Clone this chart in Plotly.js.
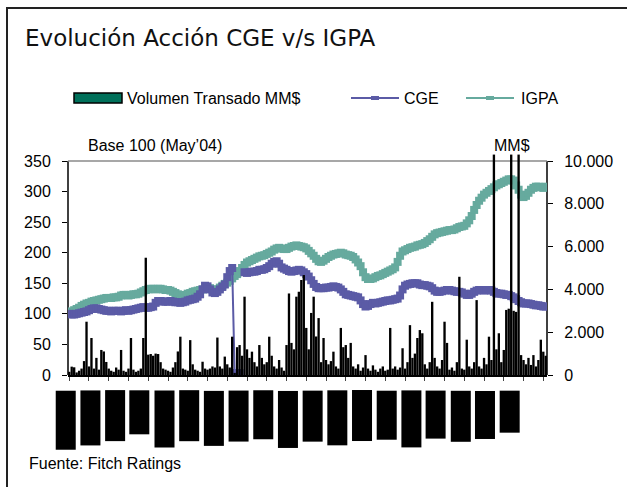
<!DOCTYPE html>
<html>
<head>
<meta charset="utf-8">
<script src="https://cdn.plot.ly/plotly-3.0.1.min.js"></script>
<style>
  html, body { margin: 0; padding: 0; background: #fff; overflow: hidden; }
  #wrap { position: relative; width: 627px; height: 487px; }
  #chart { position: absolute; left: 0; top: 0; width: 627px; height: 487px; }
  #frame { position: absolute; left: 6px; top: 7px; width: 700px; height: 600px;
           border-left: 2px solid #222; border-top: 2px solid #222; pointer-events: none; }
</style>
</head>
<body>
<div id="wrap"><div id="chart"></div><div id="frame"></div></div>
<script>
// ---------------- DATA ----------------
var monthLabels = ["may-04","jun-04","jul-04","ago-04","sep-04","oct-04","nov-04","dic-04","ene-05","feb-05",
                   "mar-05","abr-05","may-05","jun-05","jul-05","ago-05","sep-05","oct-05","nov-05"];

var volumen = [
  150, 390, 360, 120, 200, 300, 650, 2490, 400, 1730,
  300, 800, 250, 1170, 1100, 610, 300, 200, 150, 350,
  250, 1170, 200, 150, 300, 1730, 250, 150, 200, 300,
  1730, 5480, 950, 980, 900, 1000, 980, 600, 300, 250,
  200, 150, 350, 600, 1100, 1790, 300, 250, 200, 1630,
  500, 250, 200, 150, 620, 300, 250, 300, 400, 350,
  1750, 400, 300, 860, 500, 350, 1790, 100, 1300, 1400,
  900, 3660, 1200, 800, 1090, 600, 400, 1400, 800, 500,
  600, 1790, 900, 400, 300, 700, 350, 200, 1400, 3810,
  1500, 1200, 3660, 3890, 4440, 4670, 2200, 1200, 2900, 3660,
  1800, 2660, 600, 1730, 700, 500, 650, 1090, 400, 300,
  2200, 1300, 1400, 800, 1500, 400, 300, 500, 200, 350,
  930, 300, 200, 450, 250, 150, 300, 400, 200, 250,
  2200, 300, 400, 250, 350, 1250, 300, 600, 2330, 800,
  1000, 1730, 2100, 1950, 500, 300, 600, 3420, 800, 400,
  300, 700, 2490, 1500, 250, 350, 200, 600, 4590, 300,
  250, 1650, 400, 300, 600, 3500, 400, 300, 800, 500,
  1790, 700, 10300, 1200, 1950, 600, 1170, 3040, 3100, 10300,
  3000, 2950, 10300, 930, 700, 500, 800, 470, 930, 400,
  700, 1650, 1090, 900
];

var cge = [
  100, 99, 99, 100, 101, 102, 103, 104, 106, 108,
  109, 109, 108, 107, 106, 105, 105, 104, 105, 105,
  105, 104, 105, 106, 105, 106, 107, 108, 109, 110,
  111, 110, 110, 111, 112, 118, 121, 121, 120, 120,
  120, 121, 120, 119, 119, 118, 119, 120, 122, 123,
  124, 125, 128, 132, 140, 146, 145, 140, 135, 134,
  136, 140, 144, 148, 160, 170, 175, 3, 3, 3,
  null, 168, 167, 168, 169, 169, 170, 172, 172, 173,
  175, 178, 182, 185, 186, 182, 176, 174, 172, 170,
  169, 170, 171, 172, 171, 168, 165, 161, 155, 149,
  144, 142, 142, 142, 143, 143, 144, 145, 144, 143,
  140, 136, 132, 131, 130, 129, 128, 127, 122, 116,
  112, 113, 116, 118, 117, 118, 119, 120, 121, 122,
  122, 123, 124, 125, 130, 140, 146, 148, 149, 150,
  150, 150, 148, 147, 147, 146, 145, 142, 138, 136,
  136, 137, 138, 139, 139, 138, 137, 136, 136, 135,
  133, 131, 131, 133, 136, 138, 139, 139, 138, 139,
  139, 138, 136, 134, 133, 133, 132, 131, 131, 129,
  127, 124, 121, 119, 117, 117, 117, 116, 115, 114,
  114, 113, 112, 112
];

var igpa = [
  102, 104, 106, 108, 110, 113, 115, 117, 118, 120,
  121, 122, 123, 124, 125, 126, 126, 126, 127, 127,
  128, 130, 131, 131, 130, 131, 132, 132, 133, 135,
  137, 139, 140, 141, 141, 140, 141, 141, 140, 139,
  139, 138, 136, 134, 132, 130, 130, 131, 133, 134,
  136, 137, 138, 139, 140, 141, 142, 142, 140, 139,
  140, 143, 146, 149, 151, 154, 158, 162, 165, 170,
  175, 180, 184, 186, 188, 190, 192, 194, 195, 196,
  198, 200, 202, 205, 207, 208, 207, 206, 206, 208,
  210, 211, 212, 211, 210, 209, 207, 203, 199, 195,
  190, 186, 185, 187, 190, 193, 195, 197, 198, 199,
  200, 199, 197, 196, 195, 193, 189, 184, 178, 168,
  160, 157, 157, 158, 160, 162, 163, 165, 167, 169,
  171, 173, 176, 185, 195, 202, 204, 206, 208, 209,
  210, 212, 213, 214, 216, 219, 222, 226, 230, 232,
  233, 234, 235, 236, 237, 237, 238, 240, 242, 243,
  244, 248, 253, 260, 270, 278, 285, 290, 295, 298,
  301, 304, 307, 310, 312, 314, 316, 318, 320, 320,
  318, 310, 303, 295, 291, 293, 298, 303, 306, 308,
  308, 307, 306, 308
];

var leftTicks = [0, 50, 100, 150, 200, 250, 300, 350];
var rightTicks = [0, 2000, 4000, 6000, 8000, 10000];
var rightTickText = ["0", "2.000", "4.000", "6.000", "8.000", "10.000"];

// ---------------- LAYOUT HELPERS ----------------
var W = 627, H = 487;
var mL = 68, mR = 80, mT = 150, mB = 112;
var plotW = W - mL - mR, plotH = H - mT - mB;
var axisPx = 214; // pixel height of the 0..350 scale
function PX(px) { return (px - mL) / plotW; }
function PY(py) { return (H - mB - py) / plotH; }

var n = volumen.length;
var xs = [];
for (var i = 0; i < n; i++) xs.push(i);

var cPurple = '#5b5ba6';
var cTeal = '#66aa9e';
var txtFont = {family: 'Liberation Sans, Arial, sans-serif', size: 16, color: '#000'};

var traces = [
  {type: 'scatter', mode: 'lines+markers', x: xs, y: igpa, name: 'IGPA',
   line: {color: cTeal, width: 3}, marker: {symbol: 'square', size: 8, color: cTeal},
   connectgaps: false, hoverinfo: 'skip', xaxis: 'x', yaxis: 'y'},
  {type: 'scatter', mode: 'lines+markers', x: xs, y: cge, name: 'CGE',
   line: {color: cPurple, width: 2}, marker: {symbol: 'square', size: 8, color: cPurple},
   connectgaps: false, hoverinfo: 'skip', xaxis: 'x', yaxis: 'y'},
  {type: 'bar', x: xs, y: volumen, name: 'Volumen Transado MM$',
   marker: {color: '#000', line: {width: 0}}, hoverinfo: 'skip', xaxis: 'x', yaxis: 'y2'}
];

// x-axis label blocks (rotated labels rendered as solid blocks)
var labelBoxLen = [58, 54, 50, 43, 56, 50, 54, 50, 48, 56, 50, 54, 50, 48, 56, 47, 50, 47, 41];
var annotations = [];
for (var k = 0; k < monthLabels.length; k++) {
  annotations.push({
    xref: 'x', yref: 'paper', x: k * 10, y: 0, xanchor: 'center', yanchor: 'top',
    yshift: -15, xshift: -4, text: monthLabels[k], textangle: -90, showarrow: false,
    font: {family: 'Liberation Sans', size: 11, color: '#000'},
    bgcolor: '#000', borderpad: 0, width: labelBoxLen[k], height: 19
  });
}
function txt(t, px, py) {
  return {xref: 'paper', yref: 'paper', x: PX(px), y: PY(py), xanchor: 'left', yanchor: 'middle',
          text: t, showarrow: false, font: txtFont};
}
annotations.push(txt('Base 100 (May\u201904)', 86, 145));
annotations.push(txt('MM$', 492, 145));
annotations.push(txt('Fuente: Fitch Ratings', 27, 463));
annotations.push(txt('Volumen Transado MM$', 125, 98));
annotations.push(txt('CGE', 402, 98));
annotations.push(txt('IGPA', 519, 98));

var shapes = [
  {type: 'line', xref: 'paper', yref: 'y', x0: 0, x1: 0, y0: 0, y1: 350, line: {color: '#000', width: 1.5}, layer: 'below'},
  {type: 'line', xref: 'paper', yref: 'y', x0: 1, x1: 1, y0: 0, y1: 350, line: {color: '#000', width: 1.5}, layer: 'below'},
  {type: 'line', xref: 'paper', yref: 'y', x0: 0, x1: 1, y0: 350, y1: 350, line: {color: '#8a8a8a', width: 1.5}, layer: 'below'},
  {type: 'rect', xref: 'paper', yref: 'paper', x0: PX(74), x1: PX(122), y0: PY(103), y1: PY(93),
   fillcolor: '#00705a', line: {color: '#000', width: 1.5}},
  {type: 'line', xref: 'paper', yref: 'paper', x0: PX(351), x1: PX(399), y0: PY(98), y1: PY(98),
   line: {color: cPurple, width: 2}},
  {type: 'rect', xref: 'paper', yref: 'paper', x0: PX(371), x1: PX(379), y0: PY(100), y1: PY(96),
   fillcolor: cPurple, line: {width: 0}},
  {type: 'line', xref: 'paper', yref: 'paper', x0: PX(466), x1: PX(514), y0: PY(98), y1: PY(98),
   line: {color: cTeal, width: 2}},
  {type: 'rect', xref: 'paper', yref: 'paper', x0: PX(486), x1: PX(494), y0: PY(100), y1: PY(96),
   fillcolor: cTeal, line: {width: 0}}
];

var layout = {
  width: W, height: H,
  margin: {l: mL, r: mR, t: mT, b: mB, pad: 0},
  paper_bgcolor: '#fff', plot_bgcolor: 'rgba(0,0,0,0)',
  showlegend: false,
  bargap: 0.05,
  title: {text: 'Evolución Acción CGE v/s IGPA',
          font: {family: 'DejaVu Sans, sans-serif', size: 23, color: '#111'},
          x: 25 / W, xanchor: 'left', xref: 'container',
          y: 1 - 38 / H, yanchor: 'middle', yref: 'container'},
  xaxis: {range: [-0.5, n - 0.5], showgrid: false, zeroline: false, showline: true,
          linecolor: '#000', linewidth: 1.5, ticks: 'outside', ticklen: 4, tickcolor: '#444',
          tickmode: 'linear', tick0: 0, dtick: 8, showticklabels: false, fixedrange: true},
  yaxis: {range: [0, 350 * plotH / axisPx], showgrid: false, zeroline: false, showline: false,
          tickmode: 'array', tickvals: leftTicks, ticktext: leftTicks.map(String),
          ticks: 'outside', ticklen: 5, tickcolor: '#000', tickfont: txtFont,
          ticklabelstandoff: 8},
  yaxis2: {range: [0, 10000 * plotH / axisPx], overlaying: 'y', side: 'right', showgrid: false,
           zeroline: false, showline: false, tickmode: 'array', tickvals: rightTicks,
           ticktext: rightTickText, ticks: 'outside', ticklen: 5, tickcolor: '#000',
           tickfont: txtFont, ticklabelstandoff: 8},
  annotations: annotations,
  shapes: shapes
};

Plotly.newPlot('chart', traces, layout, {staticPlot: true, displayModeBar: false});
</script>
</body>
</html>
